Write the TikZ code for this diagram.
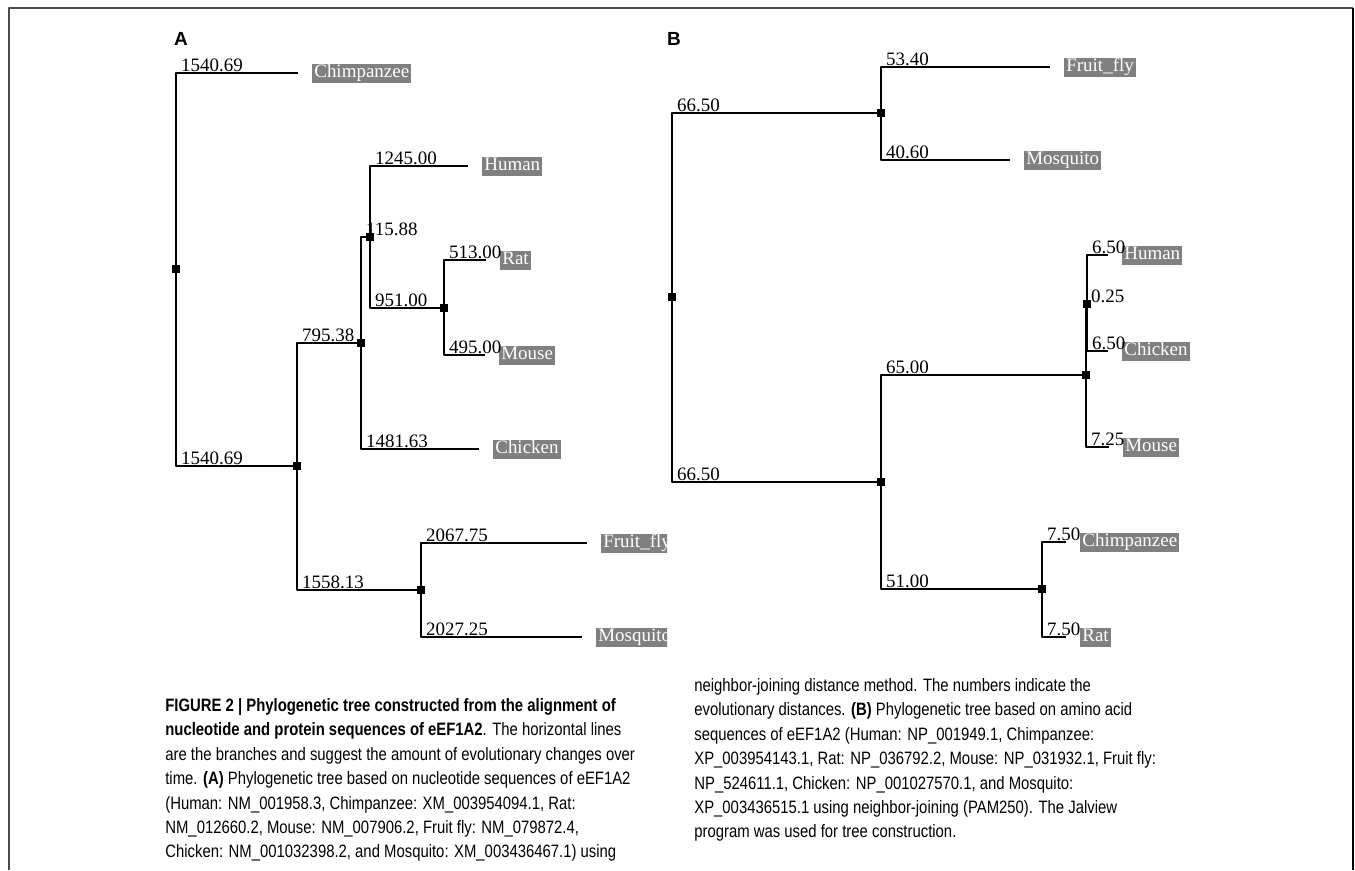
\documentclass[tikz,border=0pt]{standalone}
\usepackage{fontspec}
\setmainfont{Liberation Serif}
\newfontfamily\capfont{Liberation Sans}[FakeStretch=0.83]
\newfontfamily\panelfont{Liberation Sans}
\usepackage{tikz}
\usetikzlibrary{positioning}
\definecolor{leafgray}{HTML}{808080}

\begin{document}
\begin{tikzpicture}[x=0.02cm, y=-0.02cm, line join=bevel,
        branch/.style={line width=1.3pt},
        junction/.style={fill, minimum size=0.15cm, inner sep=0pt},
        dist/.style={anchor=base west, inner sep=0pt, xshift=0.08cm, yshift=0.04cm,
            font=\fontsize{10.8}{12}\selectfont},
        leaf/.style={fill=leafgray, text=white, inner xsep=0.04cm, inner ysep=0.02cm,
            text height=0.26cm, text depth=0.08cm, font=\fontsize{10.8}{12}\selectfont},
        panel/.style={font=\panelfont\bfseries\fontsize{10.8}{12}\selectfont},
        caption/.style={anchor=north west, inner sep=0pt, align=left,
            font=\capfont\fontsize{10.2}{13.9}\selectfont}]
    \useasboundingbox (0,0) rectangle (1355,870);
    \draw[black!70, line width=0.6pt] (9,870) |- (1353,8);
    \draw[line width=1.2pt] (1353,8) -- (1353,870);

    % (A) nucleotide tree
    \node[panel] (panA) at (181,39) {A};
    \begin{scope}
        \clip (0,0) rectangle (667,680);
        \node[junction] (aRoot) at (176,269) {};
        \node[junction] (a1) at (297,466) {};
        \node[junction] (a2) at (361,343) {};
        \node[junction] (a3) at (370,237) {};
        \node[junction] (a4) at (444,308) {};
        \node[junction] (a5) at (421,590) {};
        \coordinate (aChimpEnd) at (298,73);
        \coordinate (aHumanEnd) at (468,166);
        \coordinate (aRatEnd) at (486,260);
        \coordinate (aMouseEnd) at (485,355);
        \coordinate (aChickenEnd) at (479,449);
        \coordinate (aFlyEnd) at (587,543);
        \coordinate (aMosqEnd) at (582,637);
        \node[leaf, right=0.28cm of aChimpEnd] (aChimp) {Chimpanzee};
        \node[leaf, right=0.28cm of aHumanEnd] (aHuman) {Human};
        \node[leaf, right=0.28cm of aRatEnd] (aRat) {Rat};
        \node[leaf, right=0.28cm of aMouseEnd] (aMouse) {Mouse};
        \node[leaf, right=0.28cm of aChickenEnd] (aChicken) {Chicken};
        \node[leaf, right=0.28cm of aFlyEnd] (aFly) {Fruit\_fly};
        \node[leaf, right=0.28cm of aMosqEnd] (aMosq) {Mosquito};
        \draw[branch] (aRoot.center) |- node[dist] (dA1) {1540.69} (aChimpEnd);
        \draw[branch] (aRoot.center) |- node[dist] (dA2) {1540.69} (a1.center);
        \draw[branch] (a1.center) |- node[dist] (dA3) {795.38} (a2.center);
        \draw[branch] (a1.center) |- node[dist] (dA4) {1558.13} (a5.center);
        \draw[branch] (a2.center) |- node[dist] (dA5) {115.88} (a3.center);
        \draw[branch] (a2.center) |- node[dist] (dA6) {1481.63} (aChickenEnd);
        \draw[branch] (a3.center) |- node[dist] (dA7) {1245.00} (aHumanEnd);
        \draw[branch] (a3.center) |- node[dist] (dA8) {951.00} (a4.center);
        \draw[branch] (a4.center) |- node[dist] (dA9) {513.00} (aRatEnd);
        \draw[branch] (a4.center) |- node[dist] (dA10) {495.00} (aMouseEnd);
        \draw[branch] (a5.center) |- node[dist] (dA11) {2067.75} (aFlyEnd);
        \draw[branch] (a5.center) |- node[dist] (dA12) {2027.25} (aMosqEnd);
    \end{scope}

    % (B) amino acid tree
    \node[panel] (panB) at (674,39) {B};
    \node[junction] (bRoot) at (672,297) {};
    \node[junction] (b1) at (881,113) {};
    \node[junction] (b2) at (881,482) {};
    \node[junction] (b3) at (1086,375) {};
    \node[junction] (b4) at (1087,304) {};
    \node[junction] (b5) at (1042,589) {};
    \coordinate (bFlyEnd) at (1050,67);
    \coordinate (bMosqEnd) at (1010,160);
    \coordinate (bHumanEnd) at (1108,255);
    \coordinate (bChickenEnd) at (1108,351);
    \coordinate (bMouseEnd) at (1109,447);
    \coordinate (bChimpEnd) at (1066,542);
    \coordinate (bRatEnd) at (1066,637);
    \node[leaf, right=0.28cm of bFlyEnd] (bFly) {Fruit\_fly};
    \node[leaf, right=0.28cm of bMosqEnd] (bMosq) {Mosquito};
    \node[leaf, right=0.28cm of bHumanEnd] (bHuman) {Human};
    \node[leaf, right=0.28cm of bChickenEnd] (bChicken) {Chicken};
    \node[leaf, right=0.28cm of bMouseEnd] (bMouse) {Mouse};
    \node[leaf, right=0.28cm of bChimpEnd] (bChimp) {Chimpanzee};
    \node[leaf, right=0.28cm of bRatEnd] (bRat) {Rat};
    \draw[branch] (bRoot.center) |- node[dist] (dB1) {66.50} (b1.center);
    \draw[branch] (bRoot.center) |- node[dist] (dB2) {66.50} (b2.center);
    \draw[branch] (b1.center) |- node[dist] (dB3) {53.40} (bFlyEnd);
    \draw[branch] (b1.center) |- node[dist] (dB4) {40.60} (bMosqEnd);
    \draw[branch] (b2.center) |- node[dist] (dB5) {65.00} (b3.center);
    \draw[branch] (b2.center) |- node[dist] (dB6) {51.00} (b5.center);
    \draw[branch] (b3.center) |- node[dist] (dB7) {0.25} (b4.center);
    \draw[branch] (b3.center) |- node[dist] (dB8) {7.25} (bMouseEnd);
    \draw[branch] (b4.center) |- node[dist] (dB9) {6.50} (bHumanEnd);
    \draw[branch] (b4.center) |- node[dist] (dB10) {6.50} (bChickenEnd);
    \draw[branch] (b5.center) |- node[dist] (dB11) {7.50} (bChimpEnd);
    \draw[branch] (b5.center) |- node[dist] (dB12) {7.50} (bRatEnd);

    % legend
    \node[caption] (capA) at (165,698) {\textbf{FIGURE 2 | Phylogenetic tree constructed from the alignment of}\\
        \textbf{nucleotide and protein sequences of eEF1A2}. The horizontal lines\\
        are the branches and suggest the amount of evolutionary changes over\\
        time. \textbf{(A)} Phylogenetic tree based on nucleotide sequences of eEF1A2\\
        (Human: NM\_001958.3, Chimpanzee: XM\_003954094.1, Rat:\\
        NM\_012660.2, Mouse: NM\_007906.2, Fruit fly: NM\_079872.4,\\
        Chicken: NM\_001032398.2, and Mosquito: XM\_003436467.1) using};
    \node[caption] (capB) at (694,678) {neighbor-joining distance method. The numbers indicate the\\
        evolutionary distances. \textbf{(B)} Phylogenetic tree based on amino acid\\
        sequences of eEF1A2 (Human: NP\_001949.1, Chimpanzee:\\
        XP\_003954143.1, Rat: NP\_036792.2, Mouse: NP\_031932.1, Fruit fly:\\
        NP\_524611.1, Chicken: NP\_001027570.1, and Mosquito:\\
        XP\_003436515.1 using neighbor-joining (PAM250). The Jalview\\
        program was used for tree construction.};
\end{tikzpicture}
\end{document}
